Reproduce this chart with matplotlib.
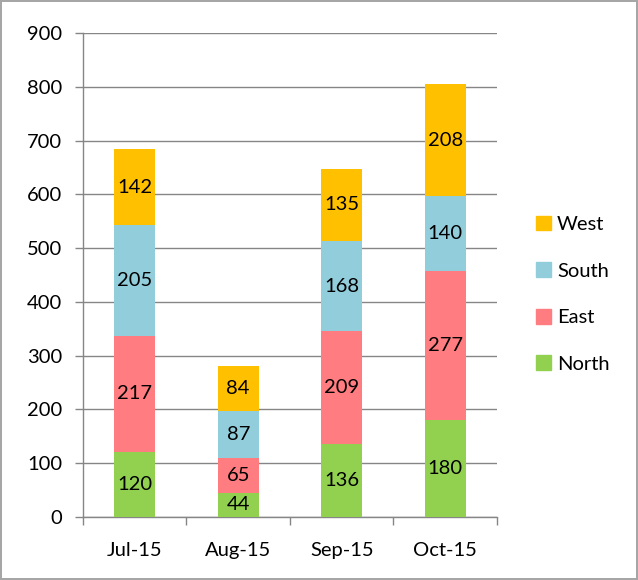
import matplotlib
matplotlib.use('Agg')
import matplotlib.pyplot as plt
import numpy as np
from matplotlib.patches import Patch

months = ['Jul-15', 'Aug-15', 'Sep-15', 'Oct-15']
north = [120, 44, 136, 180]
east = [217, 65, 209, 277]
south = [205, 87, 168, 140]
west = [142, 84, 135, 208]

series = [('North', north, '#92D050'), ('East', east, '#FF7C80'),
          ('South', south, '#92CDDC'), ('West', west, '#FFC000')]

plt.rcParams['font.family'] = ['Lato', 'DejaVu Sans']
FS = 14.5

fig = plt.figure(figsize=(6.38, 5.8), dpi=100)
fig.patch.set_edgecolor('#A6A6A6')
fig.patch.set_linewidth(1.5)
ax = fig.add_axes([0.130, 0.109, 0.649, 0.834])

x = np.arange(len(months))
bottom = np.zeros(len(months))
for name, vals, color in series:
    ax.bar(x, vals, width=0.4, bottom=bottom, color=color, zorder=3)
    for xi, b, v in zip(x, bottom, vals):
        ax.text(xi, b + v / 2, str(v), ha='center', va='center', fontsize=FS, color='black', zorder=4)
    bottom += np.array(vals)

ax.set_ylim(0, 900)
ax.set_yticks(range(0, 1000, 100))
ax.set_xlim(-0.5, 3.5)
ax.set_xticks(np.arange(-0.5, 4, 1))
ax.set_xticklabels([])
ax.set_xticks(x, minor=True)
ax.set_xticklabels(months, minor=True)
ax.tick_params(axis='x', which='major', length=6, color='#868686', width=1)
ax.tick_params(axis='x', which='minor', length=0, pad=18, labelsize=FS)
ax.tick_params(axis='y', length=6, color='#868686', width=1, pad=9, labelsize=FS)
ax.yaxis.grid(True, color='#868686', linewidth=1, zorder=0)
for s in ['top', 'right']:
    ax.spines[s].set_visible(False)
for s in ['left', 'bottom']:
    ax.spines[s].set_color('#868686')
    ax.spines[s].set_linewidth(1)

handles = [Patch(color=c, label=n) for n, _, c in series[::-1]]
ax.legend(handles=handles, loc='center left', bbox_to_anchor=(1.05, 0.46), frameon=False,
          fontsize=FS, labelspacing=1.45, handlelength=0.75, handleheight=0.75, handletextpad=0.3)

fig.savefig('out.png', dpi=100)
